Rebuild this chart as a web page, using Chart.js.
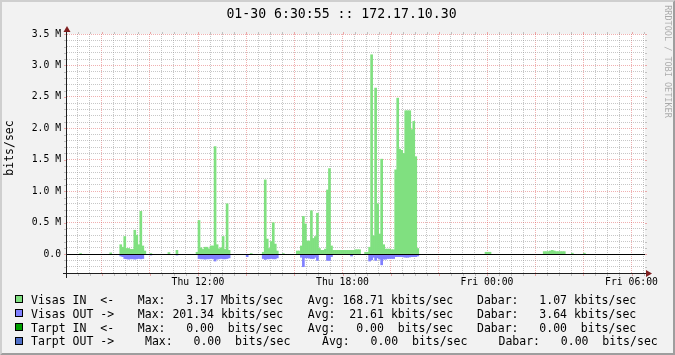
<!DOCTYPE html>
<html>
<head>
<meta charset="utf-8">
<script src="https://cdn.jsdelivr.net/npm/chart.js@4/dist/chart.umd.min.js"></script>
<style>
  body { margin: 0; background: #f2f2f2; }
  #wrap { position: relative; width: 675px; height: 355px; }
  #legend { position: absolute; left: 0; top: 0; font: 11.5px "DejaVu Sans Mono", monospace; color: #000; }
  .chunk { position: absolute; white-space: pre; line-height: 14px; }
  .swatch { position: absolute; width: 6px; height: 6px; border: 1px solid #000; }
</style>
</head>
<body>
<div id="wrap">
  <canvas id="chart" width="675" height="355"></canvas>
  <div id="legend"></div>
</div>
<script>
// traffic in Mbit/s, one value per 5 minute step; each run starts at the given slot
const STEP_MIN = 5;
const inBursts = [
  ['Thu 07:05', [0.01]],
  ['Thu 08:20', [0.02]],
  ['Thu 08:45', [0.15, 0.11, 0.28, 0.09, 0.09, 0.075, 0.075, 0.38, 0.30, 0.15, 0.68, 0.13, 0.05]],
  ['Thu 10:00', [0.01]],
  ['Thu 10:45', [0.025]],
  ['Thu 11:05', [0.06]],
  ['Thu 11:55', [0.03, 0.535, 0.10, 0.075, 0.11, 0.11, 0.085, 0.13, 0.13, 1.71, 0.15, 0.085, 0.10, 0.28, 0.075, 0.80, 0.06]],
  ['Thu 14:10', [0.01]],
  ['Thu 14:40', [0.03, 1.18, 0.24, 0.09, 0.20, 0.50, 0.16, 0.05]],
  ['Thu 15:30', [0.01]],
  ['Thu 16:05', [0.05, 0.05, 0.13, 0.60, 0.48, 0.21, 0.21, 0.69, 0.25, 0.28, 0.65, 0.09, 0.06, 0.06, 0.08, 1.02, 1.36, 0.13,
                 0.06, 0.06, 0.06, 0.06, 0.06, 0.06, 0.06, 0.06, 0.06, 0.06, 0.06, 0.07, 0.07, 0.07]],
  ['Thu 18:55', [0.03, 0.03, 0.11, 3.17, 0.29, 2.64, 0.80, 0.32, 1.51, 0.15, 0.08, 0.08, 0.08, 0.07, 0.07,
                 1.34, 2.48, 1.67, 1.65, 1.60, 2.28, 2.28, 2.28, 1.98, 2.11, 1.55, 0.09]],
  ['Thu 23:55', [0.03, 0.03, 0.03]],
  ['Fri 02:20', [0.04, 0.04, 0.04, 0.05, 0.06, 0.05, 0.04, 0.04, 0.04, 0.04, 0.04]],
  ['Fri 03:30', [0.015]],
  ['Fri 04:00', [0.015]]
];
const outBursts = [
  ['Thu 08:45', [0.03, 0.04, 0.07, 0.075, 0.08, 0.075, 0.075, 0.08, 0.075, 0.07, 0.075, 0.07]],
  ['Thu 10:00', [0.015]],
  ['Thu 11:05', [0.015]],
  ['Thu 12:00', [0.07, 0.075, 0.075, 0.08, 0.075, 0.075, 0.07, 0.075, 0.11, 0.08, 0.075, 0.07, 0.075, 0.075, 0.07, 0.06]],
  ['Thu 14:00', [0.04]],
  ['Thu 14:40', [0.07, 0.085, 0.075, 0.075, 0.07, 0.075, 0.075, 0.06]],
  ['Thu 16:15', [0.05, 0.20, 0.06, 0.06, 0.065, 0.07, 0.07, 0.05, 0.10]],
  ['Thu 17:20', [0.10, 0.10, 0.04]],
  ['Thu 18:20', [0.03]],
  ['Thu 19:05', [0.11, 0.09, 0.05, 0.10, 0.06, 0.08, 0.17, 0.08, 0.08, 0.07, 0.07, 0.07, 0.07,
                 0.04, 0.04, 0.04, 0.04, 0.045, 0.05, 0.05, 0.045, 0.04, 0.04, 0.04, 0.03]]
];

const xLabelHours = [12, 18, 24, 30];
const xLabels = ['Thu 12:00', 'Thu 18:00', 'Fri 00:00', 'Fri 06:00'];
const yLabelValues = [0, 0.5, 1, 1.5, 2, 2.5, 3, 3.5];
const yLabels = ['0.0', '0.5 M', '1.0 M', '1.5 M', '2.0 M', '2.5 M', '3.0 M', '3.5 M'];

const legendNames = ['Visas IN  <-', 'Visas OUT ->', 'Tarpt IN  <-', 'Tarpt OUT ->'];
const legendColors = ['#80e080', '#8080ff', '#00a000', '#5070c8'];
const maxValues = ['3.17', '201.34', '0.00', '0.00'];
const maxUnits = ['Mbits/sec', 'kbits/sec', ' bits/sec', ' bits/sec'];
const avgValues = ['168.71', '21.61', '0.00', '0.00'];
const avgUnits = ['kbits/sec', 'kbits/sec', ' bits/sec', ' bits/sec'];
const nowValues = ['1.07', '3.64', '0.00', '0.00'];
const nowUnits = ['kbits/sec', 'kbits/sec', ' bits/sec', ' bits/sec'];

const TITLE = '01-30 6:30:55 :: 172.17.10.30';
const X_MIN = 6.56, X_MAX = 30.56;   // hours from Thu 00:00
const Y_MIN = -0.3, Y_MAX = 3.5;

const GRID = 'rgba(143,143,143,0.5)';
const MGRID = 'rgba(222,79,79,0.45)';
const MONO = '"DejaVu Sans Mono", monospace';

const DAY_OFFSET = { Thu: 0, Fri: 24 };
// minutes from Thu 00:00, kept as integers so both series share exact x values
function slotMinute(label) {
  const [day, hm] = label.split(' ');
  const [h, m] = hm.split(':').map(Number);
  return (DAY_OFFSET[day] + h) * 60 + m;
}

function toPoints(bursts, sign) {
  const pts = [];
  bursts.forEach(([start, vals]) => {
    const m0 = slotMinute(start);
    vals.forEach((v, i) => pts.push({ x: (m0 + i * STEP_MIN + STEP_MIN / 2) / 60, y: sign * v }));
  });
  return pts;
}

const isMultiple = (v, s) => Math.abs(v / s - Math.round(v / s)) < 1e-6;

// background, shading, axes, arrows and the texts rrdtool puts around the graph
const rrdFrame = {
  id: 'rrdFrame',
  beforeDraw(chart) {
    const { ctx, chartArea: a, width: w, height: h } = chart;
    ctx.save();
    ctx.fillStyle = '#f2f2f2';
    ctx.fillRect(0, 0, w, h);
    ctx.fillStyle = '#cfcfcf';
    ctx.beginPath();
    ctx.moveTo(0, 0); ctx.lineTo(w, 0); ctx.lineTo(w - 2, 2); ctx.lineTo(2, 2); ctx.lineTo(2, h - 2); ctx.lineTo(0, h);
    ctx.closePath(); ctx.fill();
    ctx.fillStyle = '#9e9e9e';
    ctx.beginPath();
    ctx.moveTo(w, 0); ctx.lineTo(w, h); ctx.lineTo(0, h); ctx.lineTo(2, h - 2); ctx.lineTo(w - 2, h - 2); ctx.lineTo(w - 2, 2);
    ctx.closePath(); ctx.fill();
    ctx.fillStyle = '#ffffff';
    ctx.fillRect(a.left, a.top, a.right - a.left, a.bottom - a.top);
    ctx.restore();
  },
  afterDatasetsDraw(chart) {
    const { ctx, chartArea: a } = chart;
    const y0 = Math.floor(chart.scales.y.getPixelForValue(0)) + 0.5;
    ctx.save();
    ctx.strokeStyle = '#000';
    ctx.lineWidth = 1;
    ctx.beginPath();
    ctx.moveTo(a.left, y0); ctx.lineTo(a.right, y0);
    ctx.stroke();
    ctx.restore();
  },
  afterDraw(chart) {
    const { ctx, chartArea: a, scales } = chart;
    const xa = Math.floor(a.left) - 0.5;
    const ya = Math.round(a.bottom) + 0.5;
    ctx.save();
    ctx.lineWidth = 1;

    // little grid ticks outside the canvas
    scales.y.ticks.forEach((t) => {
      const p = Math.round(scales.y.getPixelForValue(t.value)) + 0.5;
      ctx.strokeStyle = isMultiple(t.value, 0.5) ? MGRID : GRID;
      ctx.beginPath();
      ctx.moveTo(a.left - 3, p); ctx.lineTo(a.left, p);
      ctx.moveTo(a.right, p); ctx.lineTo(a.right + 2, p);
      ctx.stroke();
    });
    scales.x.ticks.forEach((t) => {
      const p = Math.round(scales.x.getPixelForValue(t.value)) + 0.5;
      ctx.strokeStyle = isMultiple(t.value, 2) ? MGRID : GRID;
      ctx.beginPath();
      ctx.moveTo(p, a.top - 2); ctx.lineTo(p, a.top);
      ctx.moveTo(p, a.bottom); ctx.lineTo(p, a.bottom + 3);
      ctx.stroke();
    });

    // axes
    ctx.strokeStyle = '#1f1f1f';
    ctx.beginPath();
    ctx.moveTo(a.left - 4, ya); ctx.lineTo(a.right + 2, ya);
    ctx.moveTo(xa, a.bottom + 5); ctx.lineTo(xa, a.top - 3);
    ctx.stroke();

    // arrows
    ctx.fillStyle = '#801f1f';
    ctx.beginPath();
    ctx.moveTo(xa - 3, a.top - 2); ctx.lineTo(xa + 4, a.top - 2); ctx.lineTo(xa + 0.5, a.top - 8);
    ctx.closePath(); ctx.fill();
    ctx.beginPath();
    ctx.moveTo(a.right + 1, ya - 3.5); ctx.lineTo(a.right + 1, ya + 3.5); ctx.lineTo(a.right + 7, ya);
    ctx.closePath(); ctx.fill();

    // title
    ctx.fillStyle = '#000';
    ctx.font = '13.2px ' + MONO;
    ctx.textAlign = 'center';
    ctx.textBaseline = 'middle';
    ctx.fillText(TITLE, 341.5, 15);

    // unit label
    ctx.save();
    ctx.translate(10, 148);
    ctx.rotate(-Math.PI / 2);
    ctx.font = '11.5px ' + MONO;
    ctx.fillText('bits/sec', 0, 0);
    ctx.restore();

    // watermark
    ctx.save();
    ctx.translate(667, 61.5);
    ctx.rotate(Math.PI / 2);
    ctx.font = '8.5px ' + MONO;
    ctx.fillStyle = 'rgba(0,0,0,0.3)';
    ctx.fillText('RRDTOOL / TOBI OETIKER', 0, 0);
    ctx.restore();

    ctx.restore();
  }
};

const ctx = document.getElementById('chart').getContext('2d');
new Chart(ctx, {
  type: 'bar',
  data: {
    datasets: [
      {
        label: 'Visas IN',
        data: toPoints(inBursts, 1),
        backgroundColor: legendColors[0],
        grouped: false,
        barPercentage: 1,
        categoryPercentage: 1,
        borderWidth: 0
      },
      {
        label: 'Visas OUT',
        data: toPoints(outBursts, -1),
        backgroundColor: legendColors[1],
        grouped: false,
        barPercentage: 1,
        categoryPercentage: 1,
        borderWidth: 0
      }
    ]
  },
  options: {
    responsive: false,
    animation: false,
    devicePixelRatio: 1,
    layout: { padding: { top: 34, right: 30, bottom: 0, left: 0 } },
    plugins: {
      legend: { display: false },
      tooltip: { enabled: false }
    },
    scales: {
      x: {
        type: 'linear',
        min: X_MIN,
        max: X_MAX,
        offset: false,
        afterFit: (s) => { s.height = 82; },
        afterBuildTicks: (s) => {
          const ticks = [];
          for (let h = 7; h <= 30.5; h += 0.5) ticks.push({ value: h });
          s.ticks = ticks;
        },
        grid: {
          offset: false,
          drawTicks: false,
          lineWidth: 1,
          color: (c) => (c.tick && isMultiple(c.tick.value, 2) ? MGRID : GRID)
        },
        border: { display: false, dash: [1, 1] },
        ticks: {
          autoSkip: false,
          maxRotation: 0,
          minRotation: 0,
          padding: 4,
          color: '#000',
          font: { family: MONO, size: 9.75 },
          callback: (v) => {
            const i = xLabelHours.indexOf(v);
            return i < 0 ? '' : xLabels[i];
          }
        }
      },
      y: {
        min: Y_MIN,
        max: Y_MAX,
        afterFit: (s) => { s.width = 67; },
        afterBuildTicks: (s) => {
          const ticks = [];
          for (let i = -3; i <= 35; i++) ticks.push({ value: i / 10 });
          s.ticks = ticks;
        },
        grid: {
          drawTicks: false,
          lineWidth: 1,
          color: (c) => (c.tick && isMultiple(c.tick.value, 0.5) ? MGRID : GRID)
        },
        border: { display: false, dash: [1, 1] },
        ticks: {
          autoSkip: false,
          padding: 6,
          color: '#000',
          font: { family: MONO, size: 9.75 },
          callback: (v) => {
            const i = yLabelValues.indexOf(v);
            return i < 0 ? '' : yLabels[i];
          }
        }
      }
    }
  },
  plugins: [rrdFrame]
});

// legend block under the graph, laid out like rrdtool's justified lines
const pad7 = (s) => s.padStart(7);
const chunkX = [
  [31, 137.8, 307.8, 477],
  [31, 137.8, 307.8, 477],
  [31, 137.8, 307.8, 477],
  [31, 145, 322, 498.5]
];
const legend = document.getElementById('legend');
legendNames.forEach((name, i) => {
  const mid = 299.4 + i * 13.95;
  const sw = document.createElement('div');
  sw.className = 'swatch';
  sw.style.left = '15px';
  sw.style.top = (mid - 4) + 'px';
  sw.style.background = legendColors[i];
  legend.appendChild(sw);

  const texts = [
    name,
    'Max:' + pad7(maxValues[i]) + ' ' + maxUnits[i],
    'Avg:' + pad7(avgValues[i]) + ' ' + avgUnits[i],
    'Dabar:' + pad7(nowValues[i]) + ' ' + nowUnits[i]
  ];
  texts.forEach((t, j) => {
    const s = document.createElement('span');
    s.className = 'chunk';
    s.style.left = chunkX[i][j] + 'px';
    s.style.top = (mid - 6.8) + 'px';
    s.textContent = t;
    legend.appendChild(s);
  });
});
</script>
</body>
</html>
